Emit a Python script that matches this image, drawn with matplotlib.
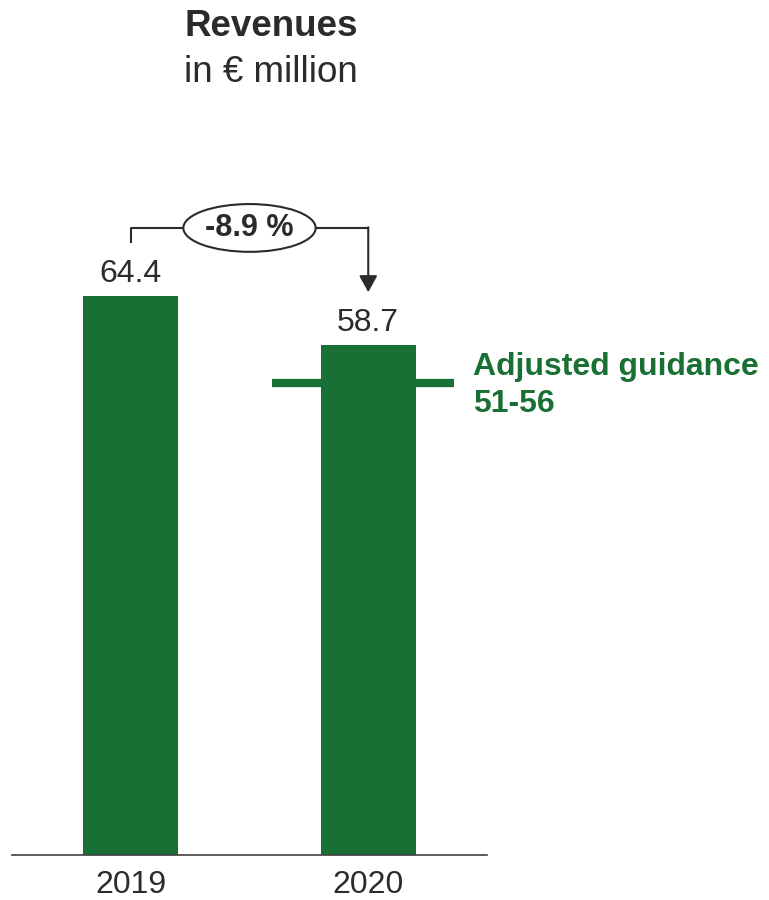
import matplotlib.pyplot as plt
from matplotlib.patches import Ellipse

plt.rcParams['font.family'] = ['Liberation Sans', 'DejaVu Sans']

# data
years = ["2019", "2020"]
revenues = [64.4, 58.7]
change_label = "-8.9 %"
guidance_label = "51-56"
guidance_mark = 54.3   # where the guidance line sits on the chart

green = "#197034"
dark = "#2b2b2b"

fig = plt.figure(figsize=(7.69, 9), dpi=100)
# axes: baseline at 855 px, bar spacing 237 px
ax = fig.add_axes([12 / 769, 45 / 900, 475 / 769, 855 / 900])
ax.set_xlim(-0.5, 1.5)
ax.set_ylim(0, 855 / 8.685)

x = list(range(len(years)))
ax.bar(x, revenues, width=0.40, color=green, zorder=2)

# value labels
for xi, v in zip(x, revenues):
    ax.annotate(f"{v:.1f}", xy=(xi, v), xytext=(0, 10), textcoords="offset points",
                ha="center", va="baseline", fontsize=23, color=dark)

# guidance line
ax.hlines(guidance_mark, 0.593, 1.361, color=green, lw=6, zorder=1)
ax.text(1.441, 55.27, "Adjusted guidance", fontsize=23, fontweight="bold",
        color=green, ha="left", va="baseline")
ax.text(1.441, 51.0, guidance_label, fontsize=23, fontweight="bold",
        color=green, ha="left", va="baseline")

# change bracket
top = 72.2
ax.plot([0, 0, 0.22], [70.5, top, top], color=dark, lw=1.5, solid_capstyle="butt")
ax.plot([0.78, 1.0], [top, top], color=dark, lw=1.5, solid_capstyle="butt")
ax.annotate("", xy=(1.0, 64.8), xytext=(1.0, top + 0.08),
            arrowprops=dict(arrowstyle="-|>,head_length=1.0,head_width=0.55",
                            color=dark, lw=1.5, shrinkA=0, shrinkB=0))
ax.add_patch(Ellipse((0.5, top), 0.557, 5.5, facecolor="white",
                     edgecolor=dark, lw=1.5, zorder=3))
ax.text(0.5, top, change_label, fontsize=22, fontweight="bold", color=dark,
        ha="center", va="center", zorder=4)

# axis styling
for s in ["top", "right", "left"]:
    ax.spines[s].set_visible(False)
ax.spines["bottom"].set_color("#404040")
ax.spines["bottom"].set_linewidth(1.2)
ax.set_yticks([])
ax.set_xticks(x)
ax.set_xticklabels(years, fontsize=23, color=dark, va="baseline")
ax.tick_params(axis="x", length=0, pad=27.5)

# title
fig.text(271 / 769, 1 - 36 / 900, "Revenues", fontsize=26.5, fontweight="bold",
         color=dark, ha="center", va="baseline")
fig.text(271 / 769, 1 - 82 / 900, "in € million", fontsize=26.5,
         color=dark, ha="center", va="baseline")

fig.savefig("out.png", dpi=100, facecolor="white")
